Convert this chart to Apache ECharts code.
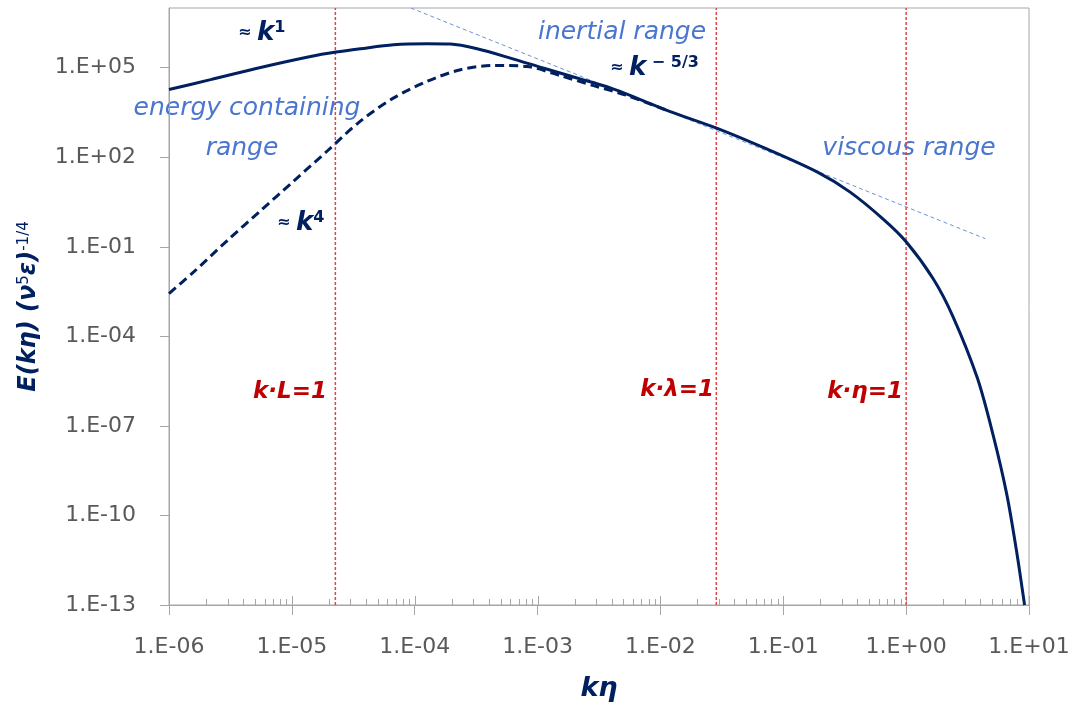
<!DOCTYPE html>
<html>
<head>
    <meta charset="utf-8">
    <title>Energy spectrum</title>
    <script type="text/javascript" src="https://cdn.jsdelivr.net/npm/echarts@6/dist/echarts.min.js"></script>
</head>
<body style="margin:0;background:#fff;">
    <div id="main" style="width:1078px; height:718px;"></div>
    <script type="text/javascript">

    // 实线：模型谱 (~k^1 低波数)
    var solidK = [1.0e-6, 2.18e-6, 5.56e-6, 1.42e-5, 2.29e-5, 3.61e-5, 6.71e-5, 1.26e-4, 1.95e-4, 3.22e-4,
                  6.01e-4, 1.11e-3, 2.09e-3, 3.91e-3, 6.86e-3, 1.2e-2, 2.9e-2, 7.41e-2, 0.19, 0.35,
                  0.65, 1.0, 1.66, 2.4, 3.8, 5.1, 6.6, 7.9, 9.2];
    var solidE = [1.85e4, 3.98e4, 1.02e5, 2.38e5, 3.34e5, 4.30e5, 5.84e5, 6.31e5, 6.17e5, 4.30e5,
                  2.10e5, 9.77e4, 4.54e4, 2.10e4, 8.58e3, 3.4e3, 930, 186, 31.6, 6.8,
                  0.85, 0.148, 8.5e-3, 4.7e-4, 4.0e-6, 5.0e-8, 5.0e-10, 6.8e-12, 1.0e-13];

    // 虚线：~k^4 低波数
    var dashK = [1.0e-6, 1.59e-6, 2.98e-6, 5.56e-6, 1.04e-5, 1.94e-5, 3.61e-5, 6.75e-5, 1.26e-4, 2.36e-4,
                 4.40e-4, 8.22e-4, 1.53e-3, 2.86e-3, 5.35e-3, 1.2e-2];
    var dashE = [2.71e-3, 1.44e-2, 0.162, 1.62, 16.2, 162, 1.62e3, 9.77e3, 3.49e4, 8.58e4,
                 1.19e5, 1.10e5, 5.41e4, 2.51e4, 1.17e4, 3.4e3];

    // -5/3 参考线
    var slopeK = [9.3e-5, 4.42];
    var slopeE = [1.0e7, 0.186];

    // 特征尺度竖线 k·L=1, k·λ=1, k·η=1
    var markerK = [2.26e-5, 2.85e-2, 1.0];

    // x 轴十进位刻度
    var xDecades = [1e-6, 1e-5, 1e-4, 1e-3, 1e-2, 1e-1, 1e0, 1e1];

    var yMin = 1e-13, yMax = 1e7;

    function pairs(xs, ys) {
        return xs.map(function (x, i) { return [x, ys[i]]; });
    }

    function expLabel(v) {
        var e = Math.round(Math.log10(v));
        var a = Math.abs(e);
        return '1.E' + (e < 0 ? '-' : '+') + (a < 10 ? '0' + a : '' + a);
    }

    // x 轴上的次刻度与主刻度(轴线以上部分)
    var tickData = [];
    xDecades.forEach(function (d, i) {
        tickData.push([d, yMin, 9]);
        if (i < xDecades.length - 1) {
            for (var m = 2; m <= 9; m++) tickData.push([m * d, yMin, 6]);
        }
    });

    var navy = '#002060';
    var gray = '#a6a6a6';
    var lightBlue = '#4a76cf';
    var red = '#c00000';
    var ff = '"DejaVu Sans", sans-serif';

    var myChart = echarts.init(document.getElementById('main'));

    // 竖线用普通折线画
    var markerSeries = markerK.map(function (v) {
        return {
            type: 'line',
            data: [[v, yMin], [v, yMax]],
            showSymbol: false,
            silent: true,
            lineStyle: { color: '#e04545', width: 1.5, type: [3, 2] }
        };
    });

    function supText(x, y, sup) {
        return {
            type: 'text', x: x, y: y,
            style: {
                text: '{a|≈ }{k|k}{s|' + sup + '}', verticalAlign: 'middle',
                rich: {
                    a: { fontSize: 16, fontWeight: 'bold', fill: navy, fontFamily: ff },
                    k: { fontSize: 26, fontWeight: 'bold', fontStyle: 'italic', fill: navy, fontFamily: ff },
                    s: { fontSize: 16, fontWeight: 'bold', fill: navy, fontFamily: ff, verticalAlign: 'top' }
                }
            }
        };
    }

    function annText(x, y, txt) {
        return { type: 'text', x: x, y: y, style: { text: txt, align: 'center', verticalAlign: 'middle', font: 'italic 25px ' + ff, fill: lightBlue } };
    }

    function redText(x, y, txt) {
        return { type: 'text', x: x, y: y, style: { text: txt, align: 'right', verticalAlign: 'middle', font: 'italic bold 23px ' + ff, fill: red } };
    }

    var option = {
        animation: false,
        grid: {
            left: 169, right: 49, top: 8, bottom: 113,
            show: true, borderColor: gray, borderWidth: 1
        },
        xAxis: {
            type: 'log',
            logBase: 10,
            min: 1e-6,
            max: 10,
            interval: 1,
            axisLine: { lineStyle: { color: gray, width: 1 } },
            axisTick: { length: 10, lineStyle: { color: gray } },
            axisLabel: { formatter: expLabel, color: '#595959', fontSize: 22, fontFamily: ff, margin: 31 },
            splitLine: { show: false },
            name: 'kη',
            nameLocation: 'middle',
            nameGap: 70,
            nameTextStyle: { color: navy, fontSize: 27, fontWeight: 'bold', fontStyle: 'italic', fontFamily: ff }
        },
        yAxis: {
            type: 'log',
            logBase: 10,
            min: yMin,
            max: yMax,
            interval: 3,
            axisLine: { show: true, lineStyle: { color: gray, width: 1 } },
            axisTick: { show: true, length: 9, lineStyle: { color: gray } },
            axisLabel: { formatter: expLabel, showMaxLabel: false, color: '#595959', fontSize: 22, fontFamily: ff, margin: 33 },
            splitLine: { show: false },
            name: '{b|E(kη) (ν}{s|5}{b|ε)}{s|-1/4}',
            nameLocation: 'middle',
            nameGap: 128,
            nameTextStyle: {
                rich: {
                    b: { fontSize: 24, fontWeight: 'bold', fontStyle: 'italic', color: navy, fontFamily: ff },
                    s: { fontSize: 15, color: navy, fontFamily: ff, verticalAlign: 'top' }
                }
            }
        },
        series: markerSeries.concat([
            {
                name: 'slope',
                type: 'line',
                data: pairs(slopeK, slopeE),
                showSymbol: false,
                silent: true,
                lineStyle: { color: '#6b93d8', width: 1, type: [4, 3] }
            },
            {
                name: 'k4',
                type: 'line',
                data: pairs(dashK, dashE),
                smooth: 0.3,
                showSymbol: false,
                lineStyle: { color: navy, width: 3, type: [9, 5] }
            },
            {
                name: 'k1',
                type: 'line',
                data: pairs(solidK, solidE),
                smooth: 0.3,
                showSymbol: false,
                lineStyle: { color: navy, width: 3 }
            },
            {
                type: 'custom',
                silent: true,
                clip: false,
                data: tickData,
                encode: { x: 0, y: 1 },
                renderItem: function (params, api) {
                    var p = api.coord([api.value(0), api.value(1)]);
                    var x = Math.round(p[0]) + 0.5;
                    return {
                        type: 'line',
                        shape: { x1: x, y1: p[1], x2: x, y2: p[1] - api.value(2) },
                        style: { stroke: gray, lineWidth: 1 }
                    };
                }
            }
        ]),
        graphic: [
            annText(247, 108, 'energy containing'),
            annText(242, 148, 'range'),
            annText(622, 32, 'inertial range'),
            annText(909, 148, 'viscous range'),
            supText(238, 33, '1'),
            supText(277, 223, '4'),
            supText(610, 68, ' − 5/3'),
            redText(327, 392, 'k·L=1'),
            redText(714, 390, 'k·λ=1'),
            redText(903, 392, 'k·η=1')
        ]
    };

    myChart.setOption(option);

    </script>
</body>
</html>
